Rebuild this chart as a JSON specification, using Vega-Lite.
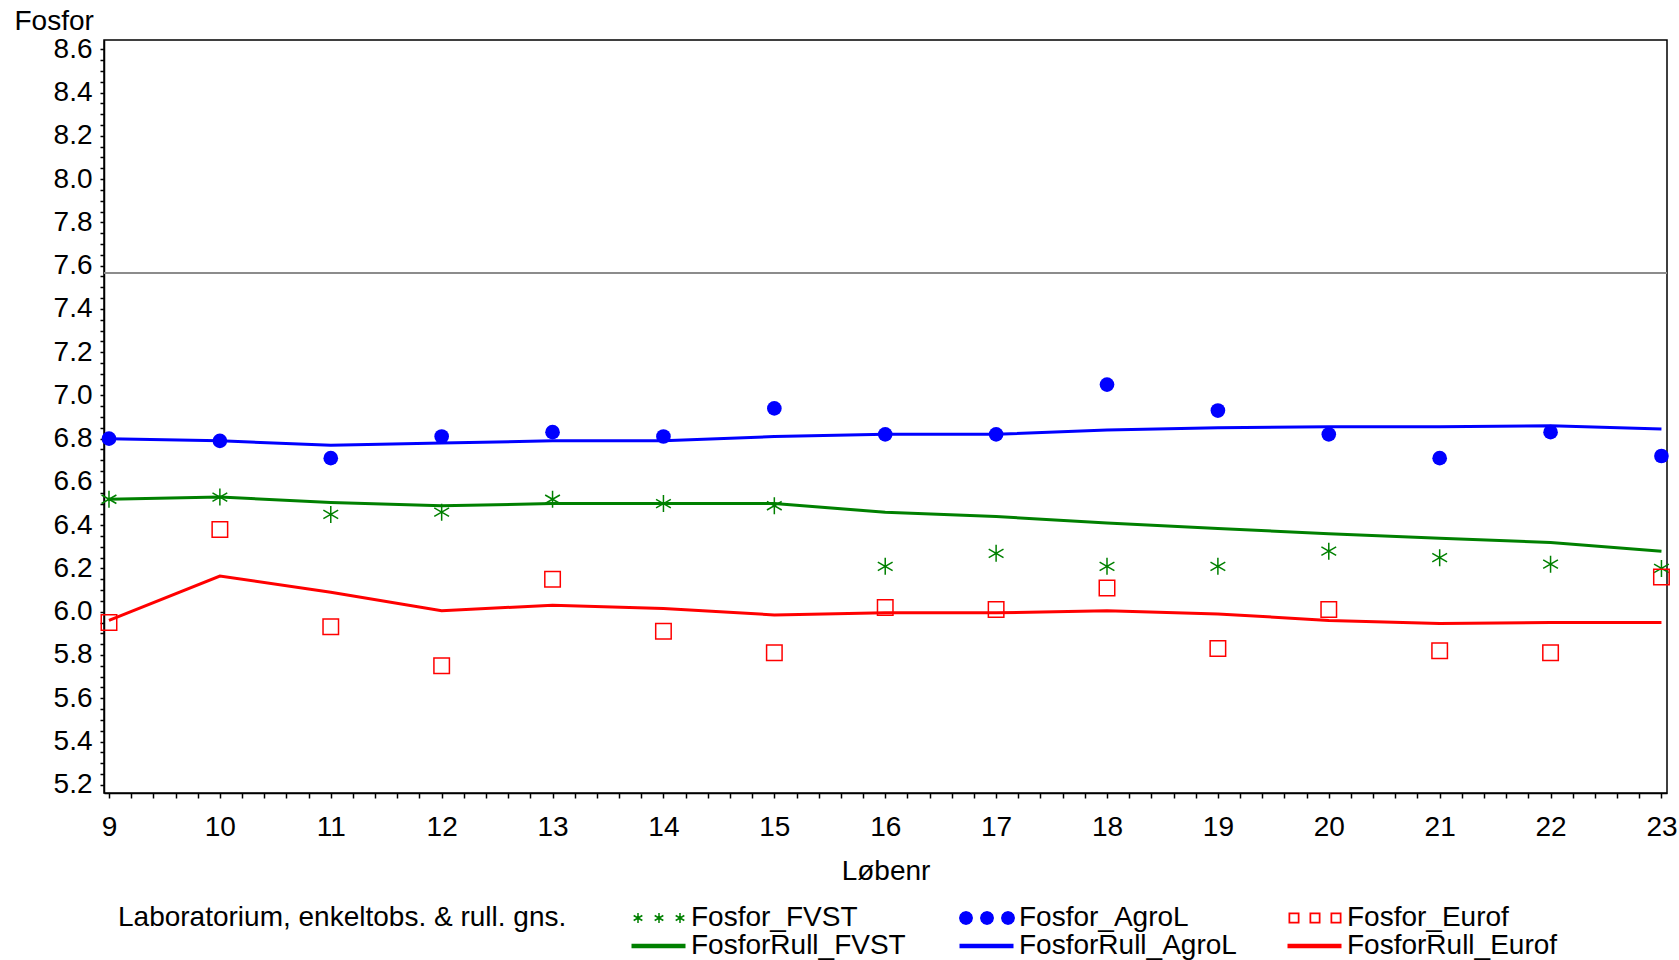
{
  "$schema": "https://vega.github.io/schema/vega-lite/v6.json",
  "width": 1563,
  "height": 753,
  "autosize": {"type": "none"},
  "padding": {"left": 104, "top": 40, "right": 12, "bottom": 167},
  "background": "white",
  "config": {
    "view": {"stroke": "#000000", "strokeWidth": 1.5},
    "font": "Liberation Sans",
    "axis": {
      "labelFont": "Liberation Sans", "labelFontSize": 28, "labelColor": "#000000",
      "titleFont": "Liberation Sans", "titleFontSize": 28, "titleFontWeight": "normal", "titleColor": "#000000",
      "domainColor": "#000000", "domainWidth": 1.5, "tickColor": "#000000", "tickWidth": 1.5,
      "grid": false, "labelOverlap": false, "labelFlush": false
    }
  },
  "data": {"values": [
    {"lob": 9, "series": "Fosfor_AgroL", "v": 6.80},
    {"lob": 10, "series": "Fosfor_AgroL", "v": 6.79},
    {"lob": 11, "series": "Fosfor_AgroL", "v": 6.71},
    {"lob": 12, "series": "Fosfor_AgroL", "v": 6.81},
    {"lob": 13, "series": "Fosfor_AgroL", "v": 6.83},
    {"lob": 14, "series": "Fosfor_AgroL", "v": 6.81},
    {"lob": 15, "series": "Fosfor_AgroL", "v": 6.94},
    {"lob": 16, "series": "Fosfor_AgroL", "v": 6.82},
    {"lob": 17, "series": "Fosfor_AgroL", "v": 6.82},
    {"lob": 18, "series": "Fosfor_AgroL", "v": 7.05},
    {"lob": 19, "series": "Fosfor_AgroL", "v": 6.93},
    {"lob": 20, "series": "Fosfor_AgroL", "v": 6.82},
    {"lob": 21, "series": "Fosfor_AgroL", "v": 6.71},
    {"lob": 22, "series": "Fosfor_AgroL", "v": 6.83},
    {"lob": 23, "series": "Fosfor_AgroL", "v": 6.72},
    {"lob": 9, "series": "FosforRull_AgroL", "v": 6.80},
    {"lob": 10, "series": "FosforRull_AgroL", "v": 6.79},
    {"lob": 11, "series": "FosforRull_AgroL", "v": 6.77},
    {"lob": 12, "series": "FosforRull_AgroL", "v": 6.78},
    {"lob": 13, "series": "FosforRull_AgroL", "v": 6.79},
    {"lob": 14, "series": "FosforRull_AgroL", "v": 6.79},
    {"lob": 15, "series": "FosforRull_AgroL", "v": 6.81},
    {"lob": 16, "series": "FosforRull_AgroL", "v": 6.82},
    {"lob": 17, "series": "FosforRull_AgroL", "v": 6.82},
    {"lob": 18, "series": "FosforRull_AgroL", "v": 6.84},
    {"lob": 19, "series": "FosforRull_AgroL", "v": 6.85},
    {"lob": 20, "series": "FosforRull_AgroL", "v": 6.855},
    {"lob": 21, "series": "FosforRull_AgroL", "v": 6.855},
    {"lob": 22, "series": "FosforRull_AgroL", "v": 6.86},
    {"lob": 23, "series": "FosforRull_AgroL", "v": 6.845},
    {"lob": 9, "series": "Fosfor_FVST", "v": 6.52},
    {"lob": 10, "series": "Fosfor_FVST", "v": 6.53},
    {"lob": 11, "series": "Fosfor_FVST", "v": 6.45},
    {"lob": 12, "series": "Fosfor_FVST", "v": 6.46},
    {"lob": 13, "series": "Fosfor_FVST", "v": 6.52},
    {"lob": 14, "series": "Fosfor_FVST", "v": 6.50},
    {"lob": 15, "series": "Fosfor_FVST", "v": 6.49},
    {"lob": 16, "series": "Fosfor_FVST", "v": 6.21},
    {"lob": 17, "series": "Fosfor_FVST", "v": 6.27},
    {"lob": 18, "series": "Fosfor_FVST", "v": 6.21},
    {"lob": 19, "series": "Fosfor_FVST", "v": 6.21},
    {"lob": 20, "series": "Fosfor_FVST", "v": 6.28},
    {"lob": 21, "series": "Fosfor_FVST", "v": 6.25},
    {"lob": 22, "series": "Fosfor_FVST", "v": 6.22},
    {"lob": 23, "series": "Fosfor_FVST", "v": 6.20},
    {"lob": 9, "series": "FosforRull_FVST", "v": 6.52},
    {"lob": 10, "series": "FosforRull_FVST", "v": 6.53},
    {"lob": 11, "series": "FosforRull_FVST", "v": 6.505},
    {"lob": 12, "series": "FosforRull_FVST", "v": 6.49},
    {"lob": 13, "series": "FosforRull_FVST", "v": 6.50},
    {"lob": 14, "series": "FosforRull_FVST", "v": 6.50},
    {"lob": 15, "series": "FosforRull_FVST", "v": 6.50},
    {"lob": 16, "series": "FosforRull_FVST", "v": 6.46},
    {"lob": 17, "series": "FosforRull_FVST", "v": 6.44},
    {"lob": 18, "series": "FosforRull_FVST", "v": 6.41},
    {"lob": 19, "series": "FosforRull_FVST", "v": 6.385},
    {"lob": 20, "series": "FosforRull_FVST", "v": 6.36},
    {"lob": 21, "series": "FosforRull_FVST", "v": 6.34},
    {"lob": 22, "series": "FosforRull_FVST", "v": 6.32},
    {"lob": 23, "series": "FosforRull_FVST", "v": 6.28},
    {"lob": 9, "series": "Fosfor_Eurof", "v": 5.95},
    {"lob": 10, "series": "Fosfor_Eurof", "v": 6.38},
    {"lob": 11, "series": "Fosfor_Eurof", "v": 5.93},
    {"lob": 12, "series": "Fosfor_Eurof", "v": 5.75},
    {"lob": 13, "series": "Fosfor_Eurof", "v": 6.15},
    {"lob": 14, "series": "Fosfor_Eurof", "v": 5.91},
    {"lob": 15, "series": "Fosfor_Eurof", "v": 5.81},
    {"lob": 16, "series": "Fosfor_Eurof", "v": 6.02},
    {"lob": 17, "series": "Fosfor_Eurof", "v": 6.01},
    {"lob": 18, "series": "Fosfor_Eurof", "v": 6.11},
    {"lob": 19, "series": "Fosfor_Eurof", "v": 5.83},
    {"lob": 20, "series": "Fosfor_Eurof", "v": 6.01},
    {"lob": 21, "series": "Fosfor_Eurof", "v": 5.82},
    {"lob": 22, "series": "Fosfor_Eurof", "v": 5.81},
    {"lob": 23, "series": "Fosfor_Eurof", "v": 6.16},
    {"lob": 9, "series": "FosforRull_Eurof", "v": 5.96},
    {"lob": 10, "series": "FosforRull_Eurof", "v": 6.165},
    {"lob": 11, "series": "FosforRull_Eurof", "v": 6.09},
    {"lob": 12, "series": "FosforRull_Eurof", "v": 6.005},
    {"lob": 13, "series": "FosforRull_Eurof", "v": 6.03},
    {"lob": 14, "series": "FosforRull_Eurof", "v": 6.015},
    {"lob": 15, "series": "FosforRull_Eurof", "v": 5.985},
    {"lob": 16, "series": "FosforRull_Eurof", "v": 5.995},
    {"lob": 17, "series": "FosforRull_Eurof", "v": 5.995},
    {"lob": 18, "series": "FosforRull_Eurof", "v": 6.005},
    {"lob": 19, "series": "FosforRull_Eurof", "v": 5.99},
    {"lob": 20, "series": "FosforRull_Eurof", "v": 5.96},
    {"lob": 21, "series": "FosforRull_Eurof", "v": 5.945},
    {"lob": 22, "series": "FosforRull_Eurof", "v": 5.95},
    {"lob": 23, "series": "FosforRull_Eurof", "v": 5.95}
  ]},
  "layer": [
    {
      "transform": [{"filter": "indexof(datum.series, 'Rull') >= 0"}],
      "mark": {"type": "line", "strokeWidth": 3},
      "encoding": {
        "x": {
          "field": "lob", "type": "quantitative",
          "scale": {"domain": [8.955, 23.05], "nice": false, "zero": false},
          "axis": {
            "title": "Løbenr", "titleY": 78, "titleBaseline": "middle", "labelOverlap": false, "tickCount": 200,
            "values": [9,9.2,9.4,9.6,9.8,10,10.2,10.4,10.6,10.8,11,11.2,11.4,11.6,11.8,12,12.2,12.4,12.6,12.8,13,13.2,13.4,13.6,13.8,14,14.2,14.4,14.6,14.8,15,15.2,15.4,15.6,15.8,16,16.2,16.4,16.6,16.8,17,17.2,17.4,17.6,17.8,18,18.2,18.4,18.6,18.8,19,19.2,19.4,19.6,19.8,20,20.2,20.4,20.6,20.8,21,21.2,21.4,21.6,21.8,22,22.2,22.4,22.6,22.8,23],
            "labelExpr": "abs(datum.value - round(datum.value)) < 0.001 ? format(datum.value, 'd') : ''",
            "tickSize": 5, "labelPadding": 29, "labelBaseline": "middle",
            "encode": {"ticks": {"update": {"y2": {"signal": "abs(datum.value - round(datum.value)) < 0.001 ? 9 : 5"}}}}
          }
        },
        "y": {
          "field": "v", "type": "quantitative",
          "scale": {"domain": [5.162, 8.643], "nice": false, "zero": false},
          "axis": {
            "title": "Fosfor", "titleAngle": 0, "titleAlign": "left", "titleBaseline": "middle", "titleX": -90, "titleY": -19, "labelOverlap": false, "tickCount": 200,
            "values": [5.2,5.25,5.3,5.35,5.4,5.45,5.5,5.55,5.6,5.65,5.7,5.75,5.8,5.85,5.9,5.95,6,6.05,6.1,6.15,6.2,6.25,6.3,6.35,6.4,6.45,6.5,6.55,6.6,6.65,6.7,6.75,6.8,6.85,6.9,6.95,7,7.05,7.1,7.15,7.2,7.25,7.3,7.35,7.4,7.45,7.5,7.55,7.6,7.65,7.7,7.75,7.8,7.85,7.9,7.95,8,8.05,8.1,8.15,8.2,8.25,8.3,8.35,8.4,8.45,8.5,8.55,8.6],
            "labelExpr": "abs(datum.value*5 - round(datum.value*5)) < 0.001 ? format(datum.value, '.1f') : ''",
            "tickSize": 4, "labelPadding": 8,
            "encode": {"ticks": {"update": {"x2": {"signal": "abs(datum.value*5 - round(datum.value*5)) < 0.001 ? -8 : -4"}}}}
          }
        },
        "stroke": {
          "field": "series", "type": "nominal",
          "scale": {
            "domain": ["FosforRull_FVST", "FosforRull_AgroL", "FosforRull_Eurof"],
            "range": ["#008000", "#0000ff", "#ff0000"]
          },
          "legend": null
        }
      }
    },
    {
      "mark": {"type": "rule", "color": "#8c8c8c", "strokeWidth": 1.5},
      "encoding": {"y": {"datum": 7.565}}
    },
    {
      "transform": [{"filter": "datum.series == 'Fosfor_FVST'"}],
      "mark": {"type": "point", "shape": "M0,-1V1M-0.87,-0.5L0.87,0.5M-0.87,0.5L0.87,-0.5", "size": 289, "filled": false, "strokeWidth": 1.5, "opacity": 1, "color": "#008000"},
      "encoding": {"x": {"field": "lob", "type": "quantitative"}, "y": {"field": "v", "type": "quantitative"}}
    },
    {
      "transform": [{"filter": "datum.series == 'Fosfor_AgroL'"}],
      "mark": {"type": "point", "shape": "circle", "size": 215, "filled": true, "opacity": 1, "color": "#0000ff"},
      "encoding": {"x": {"field": "lob", "type": "quantitative"}, "y": {"field": "v", "type": "quantitative"}}
    },
    {
      "transform": [{"filter": "datum.series == 'Fosfor_Eurof'"}],
      "mark": {"type": "point", "shape": "square", "size": 240, "filled": false, "strokeWidth": 1.5, "opacity": 1, "color": "#ff0000"},
      "encoding": {"x": {"field": "lob", "type": "quantitative"}, "y": {"field": "v", "type": "quantitative"}}
    },
    {
      "mark": {"type": "point", "filled": true, "opacity": 0},
      "encoding": {
        "x": {"field": "lob", "type": "quantitative"},
        "y": {"field": "v", "type": "quantitative"},
        "color": {
          "field": "series", "type": "nominal",
          "scale": {
            "domain": ["Fosfor_FVST", "Fosfor_AgroL", "Fosfor_Eurof", "FosforRull_FVST", "FosforRull_AgroL", "FosforRull_Eurof"],
            "range": ["#008000", "#0000ff", "#ff0000", "#008000", "#0000ff", "#ff0000"]
          },
          "legend": {
            "orient": "none", "legendX": 14, "legendY": 864,
            "direction": "horizontal", "columns": 3, "gridAlign": "all",
            "title": "Laboratorium, enkeltobs. & rull. gns.", "titleLimit": 1000,
            "titleOrient": "left", "titleAnchor": "start", "titlePadding": 105,
            "titleFont": "Liberation Sans", "titleFontSize": 28, "titleFontWeight": "normal", "titleColor": "#000000",
            "labelFont": "Liberation Sans", "labelFontSize": 28, "labelColor": "#000000", "labelOffset": -9, "labelLimit": 500,
            "symbolSize": 100, "symbolOpacity": 1, "columnPadding": 47, "rowPadding": 0, "padding": 0
          }
        },
        "shape": {
          "field": "series", "type": "nominal",
          "scale": {
            "domain": ["Fosfor_FVST", "Fosfor_AgroL", "Fosfor_Eurof", "FosforRull_FVST", "FosforRull_AgroL", "FosforRull_Eurof"],
            "range": [
              "M-9.75,-1H-9.45V1H-9.75ZM-8.809,0.63L-10.541,-0.37L-10.391,-0.63L-8.659,0.37ZM-8.659,-0.37L-10.391,0.63L-10.541,0.37L-8.809,-0.63ZM-5.55,-1H-5.25V1H-5.55ZM-4.609,0.63L-6.341,-0.37L-6.191,-0.63L-4.459,0.37ZM-4.459,-0.37L-6.191,0.63L-6.341,0.37L-4.609,-0.63ZM-1.35,-1H-1.05V1H-1.35ZM-0.409,0.63L-2.141,-0.37L-1.991,-0.63L-0.259,0.37ZM-0.259,-0.37L-1.991,0.63L-2.141,0.37L-0.409,-0.63Z",
              "M-8.2,0L-8.388,0.7L-8.9,1.212L-9.6,1.4L-10.3,1.212L-10.812,0.7L-11,0L-10.812,-0.7L-10.3,-1.212L-9.6,-1.4L-8.9,-1.212L-8.388,-0.7ZM-4,0L-4.188,0.7L-4.7,1.212L-5.4,1.4L-6.1,1.212L-6.612,0.7L-6.8,0L-6.612,-0.7L-6.1,-1.212L-5.4,-1.4L-4.7,-1.212L-4.188,-0.7ZM0.2,0L0.012,0.7L-0.5,1.212L-1.2,1.4L-1.9,1.212L-2.412,0.7L-2.6,0L-2.412,-0.7L-1.9,-1.212L-1.2,-1.4L-0.5,-1.212L0.012,-0.7Z",
              "M-10.7,-1.1H-8.5V1.1H-10.7ZM-10.35,-0.75V0.75H-8.85V-0.75ZM-6.5,-1.1H-4.3V1.1H-6.5ZM-6.15,-0.75V0.75H-4.65V-0.75ZM-2.3,-1.1H-0.1V1.1H-2.3ZM-1.95,-0.75V0.75H-0.45V-0.75Z",
              "M-10.9,-0.45H-0.1V0.45H-10.9Z",
              "M-10.9,-0.45H-0.1V0.45H-10.9Z",
              "M-10.9,-0.45H-0.1V0.45H-10.9Z"
            ]
          },
          "legend": {
            "orient": "none", "legendX": 14, "legendY": 864,
            "direction": "horizontal", "columns": 3, "gridAlign": "all",
            "title": "Laboratorium, enkeltobs. & rull. gns.", "titleLimit": 1000,
            "titleOrient": "left", "titleAnchor": "start", "titlePadding": 105,
            "titleFont": "Liberation Sans", "titleFontSize": 28, "titleFontWeight": "normal", "titleColor": "#000000",
            "labelFont": "Liberation Sans", "labelFontSize": 28, "labelColor": "#000000", "labelOffset": -9, "labelLimit": 500,
            "symbolSize": 100, "symbolOpacity": 1, "columnPadding": 47, "rowPadding": 0, "padding": 0
          }
        }
      }
    }
  ]
}
